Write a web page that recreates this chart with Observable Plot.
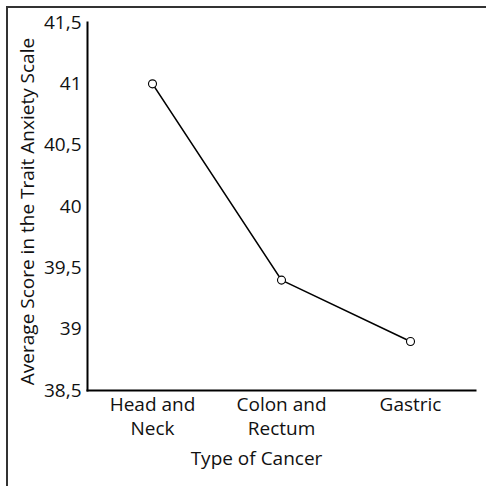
<!DOCTYPE html>
<html>
<head>
<meta charset="utf-8">
<script src="https://cdn.jsdelivr.net/npm/d3@7"></script>
<script src="https://cdn.jsdelivr.net/npm/@observablehq/plot@0.6"></script>
<style>
  html, body { margin: 0; padding: 0; background: #fff; }
  #wrap { position: relative; width: 486px; height: 486px; overflow: hidden; }
  #frame { position: absolute; left: 6px; top: 6px; width: 500px; height: 500px;
           border-top: 2px solid #333; border-left: 2px solid #333; box-sizing: border-box; }
  #chart { position: absolute; left: 0; top: 0; }
</style>
</head>
<body>
<div id="wrap"><div id="frame"></div><div id="chart"></div></div>
<script>
const categories = ["Head and Neck", "Colon and Rectum", "Gastric"];
const labelLine1 = ["Head and", "Colon and", "Gastric"];
const labelLine2 = ["Neck", "Rectum", ""];
const scores = [41, 39.4, 38.9];
const yTicks = [38.5, 39, 39.5, 40, 40.5, 41, 41.5];
const yLabel = "Average Score in the Trait Anxiety Scale";
const xLabel = "Type of Cancer";

const data = categories.map((c, i) => ({category: c, score: scores[i]}));
const line1 = new Map(categories.map((c, i) => [c, labelLine1[i]]));
const line2 = new Map(categories.map((c, i) => [c, labelLine2[i]]));
const FONT = 19;

const chart = Plot.plot({
  width: 486,
  height: 486,
  marginLeft: 87,
  marginTop: 22,
  marginRight: 11,
  marginBottom: 96,
  style: {fontFamily: "'Open Sans', sans-serif", fontSize: FONT + "px", color: "#111", background: "transparent"},
  x: {type: "point", domain: categories, padding: 0.5},
  y: {domain: [38.5, 41.5]},
  marks: [
    Plot.axisY({ticks: yTicks, tickSize: 0, tickPadding: 6, tickFormat: d => String(d).replace(".", ","), label: null, fontSize: FONT}),
    Plot.axisX({tickSize: 0, tickPadding: 7, tickFormat: d => line1.get(d), label: null, fontSize: FONT}),
    Plot.axisX({tickSize: 0, tickPadding: 31, tickFormat: d => line2.get(d), label: null, fontSize: FONT}),
    Plot.frame({anchor: "left", stroke: "black", strokeWidth: 2}),
    Plot.frame({anchor: "bottom", stroke: "black", strokeWidth: 2}),
    Plot.lineY(data, {x: "category", y: "score", stroke: "black", strokeWidth: 1.6}),
    Plot.dot(data, {x: "category", y: "score", r: 4, stroke: "black", strokeWidth: 1.1, fill: "white"}),
    Plot.text([xLabel], {frameAnchor: "bottom", dx: -25, dy: 74, fontSize: FONT, fill: "#111"}),
    Plot.text([yLabel], {frameAnchor: "left", dx: -60, dy: 5, rotate: -90, textAnchor: "middle", fontSize: FONT, fill: "#111"})
  ]
});

document.getElementById("chart").appendChild(chart);
</script>
</body>
</html>
